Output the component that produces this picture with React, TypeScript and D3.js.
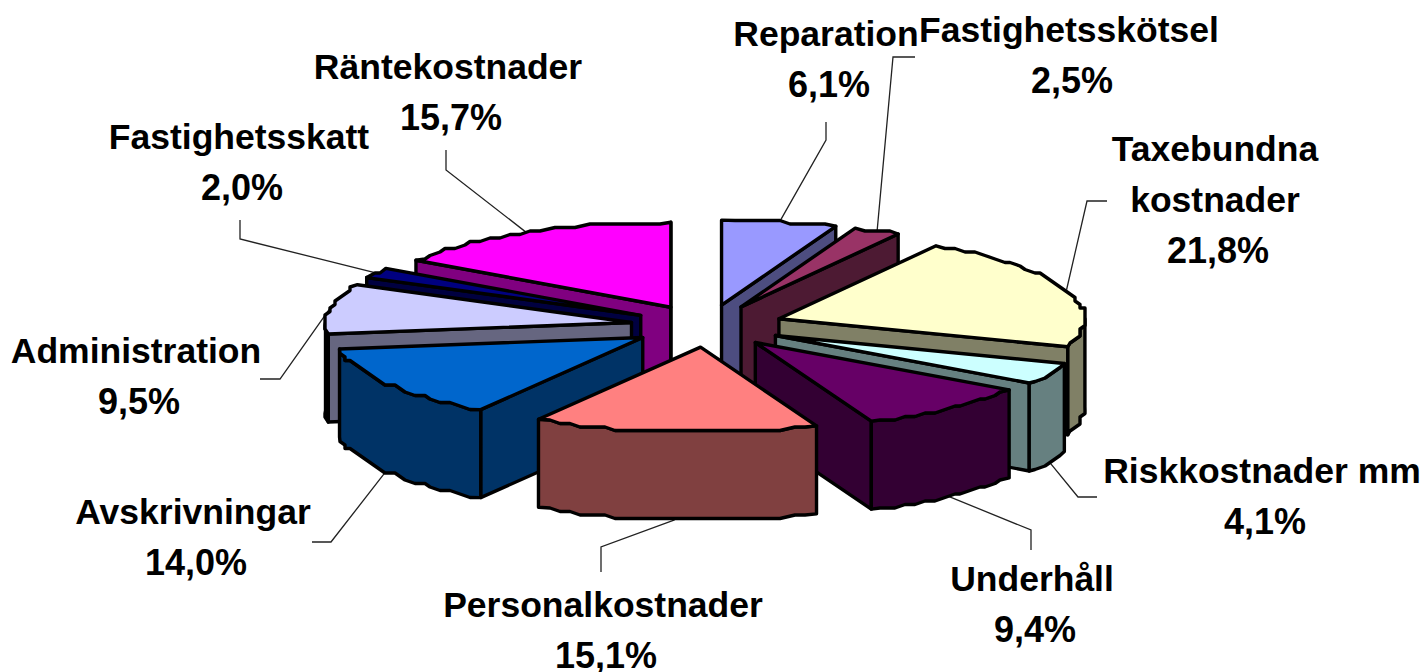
import React from "react";
import * as d3 from "d3";

const categories = [
  "Reparation",
  "Fastighetsskötsel",
  "Taxebundna kostnader",
  "Riskkostnader mm",
  "Underhåll",
  "Personalkostnader",
  "Avskrivningar",
  "Administration",
  "Fastighetsskatt",
  "Räntekostnader",
];
const shares = [6.1, 2.5, 21.8, 4.1, 9.4, 15.1, 14.0, 9.5, 2.0, 15.7];
const shareLabels = ["6,1%", "2,5%", "21,8%", "4,1%", "9,4%", "15,1%", "14,0%", "9,5%", "2,0%", "15,7%"];
const topColors = ["#9999ff", "#993366", "#ffffcc", "#ccffff", "#660066", "#ff8080", "#0066cc", "#ccccff", "#000080", "#ff00ff"];
const wallColors = ["#4d4d80", "#4d1a33", "#808066", "#668080", "#330033", "#804040", "#003366", "#666680", "#000040", "#800080"];

// label placement: centre x and the baseline of the first line
const labelX = [826, 1069, 1215, 1262, 1032, 603, 193, 136, 239, 448];
const labelY = [46, 42, 161, 483, 591, 617, 524, 363, 149, 79];
// leader lines: elbow and end, the start comes from the slice
const leaderKnots: [number, number][][] = [
  [[826, 140], [826, 122]],
  [[893, 57], [915, 57]],
  [[1087, 201], [1107, 201]],
  [[1078, 497], [1097, 497]],
  [[1031, 530], [1031, 550]],
  [[601, 547], [601, 572]],
  [[331, 542], [312, 542]],
  [[280, 379], [260, 379]],
  [[240, 239], [240, 220]],
  [[446, 170], [446, 150]],
];

const width = 1427;
const height = 672;
const depth = 88;
const explode = 0.25;

const x = d3.scaleLinear().domain([-1, 1]).range([401, 1013]);
const y = d3.scaleLinear().domain([-1, 1]).range([241, 411]);

const arcs = d3
  .pie<number>()
  .sort(null)
  .value((d) => d)(shares);

const lineGen = d3.line();

function planePoint(a: number, r: number, mid: number): [number, number] {
  return [
    x(r * Math.sin(a) + explode * Math.sin(mid)),
    y(-r * Math.cos(a) - explode * Math.cos(mid)),
  ];
}

// the rim is stepped, like the coarse raster of the original
function rim(a0: number, a1: number, mid: number): [number, number][] {
  const n = Math.max(2, Math.round((a1 - a0) / 0.04));
  const pts: [number, number][] = [];
  for (let i = 0; i <= n; i++) {
    const p = planePoint(a0 + ((a1 - a0) * i) / n, 1, mid);
    if (i === 0 || i === n) pts.push(p);
    else pts.push([Math.round(p[0] / 5) * 5, Math.round(p[1] / 3.5) * 3.5]);
  }
  return pts;
}

function down(pts: [number, number][]): [number, number][] {
  return pts.map((p) => [p[0], p[1] + depth] as [number, number]);
}

function closed(pts: [number, number][]) {
  return lineGen(pts) + "Z";
}

const paintOrder = d3.range(arcs.length).sort((a, b) => {
  const ma = (arcs[a].startAngle + arcs[a].endAngle) / 2;
  const mb = (arcs[b].startAngle + arcs[b].endAngle) / 2;
  return -Math.cos(ma) + Math.cos(mb);
});

function Slice({ i }: { i: number }) {
  const a0 = arcs[i].startAngle;
  const a1 = arcs[i].endAngle;
  const mid = (a0 + a1) / 2;
  const apex = planePoint(0, 0, mid);
  const walls: string[] = [];
  // radial walls, only the ones turned to the viewer
  if (Math.sin(a0) < 0) {
    const p = planePoint(a0, 1, mid);
    walls.push(closed([apex, p, [p[0], p[1] + depth], [apex[0], apex[1] + depth]]));
  }
  if (Math.sin(a1) > 0) {
    const p = planePoint(a1, 1, mid);
    walls.push(closed([apex, p, [p[0], p[1] + depth], [apex[0], apex[1] + depth]]));
  }
  const f0 = Math.max(a0, Math.PI / 2);
  const f1 = Math.min(a1, (3 * Math.PI) / 2);
  if (f1 > f0) {
    const front = rim(f0, f1, mid);
    walls.push(closed([...front, ...down(front).reverse()]));
  }
  return (
    <g stroke="#000" strokeWidth={3.4} strokeLinejoin="round">
      {walls.map((d, k) => (
        <path key={k} d={d} fill={wallColors[i]} />
      ))}
      <path d={closed([apex, ...rim(a0, a1, mid)])} fill={topColors[i]} />
    </g>
  );
}

function leaderPath(i: number) {
  const mid = (arcs[i].startAngle + arcs[i].endAngle) / 2;
  const p = planePoint(mid, 1, mid);
  const start: [number, number] = [p[0], -Math.cos(mid) > 0 ? p[1] + depth : p[1]];
  return lineGen([start, ...leaderKnots[i]]) as string;
}

function labelLines(i: number) {
  return i === 2 ? ["Taxebundna", "kostnader", shareLabels[i]] : [categories[i], shareLabels[i]];
}

export default function App() {
  return (
    <svg
      width={width}
      height={height}
      style={{ position: "absolute", left: 0, top: 0, background: "#fff" }}
    >
      {categories.map((_, i) => (
        <path key={i} d={leaderPath(i)} fill="none" stroke="#222" strokeWidth={1.3} />
      ))}
      {paintOrder.map((i) => (
        <Slice key={i} i={i} />
      ))}
      <g fontFamily="'Liberation Sans', Arial, sans-serif" fontWeight="bold" fontSize={35.5} textAnchor="middle" fill="#000">
        {categories.map((_, i) => {
          const lines = labelLines(i);
          return (
            <text key={i} x={labelX[i]} y={labelY[i]}>
              {lines.map((t, k) => (
                <tspan
                  key={k}
                  x={k === lines.length - 1 ? labelX[i] + 3 : labelX[i]}
                  dy={k === 0 ? 0 : 51}
                  fontSize={k === lines.length - 1 ? 36 : undefined}
                >
                  {t}
                </tspan>
              ))}
            </text>
          );
        })}
      </g>
    </svg>
  );
}
